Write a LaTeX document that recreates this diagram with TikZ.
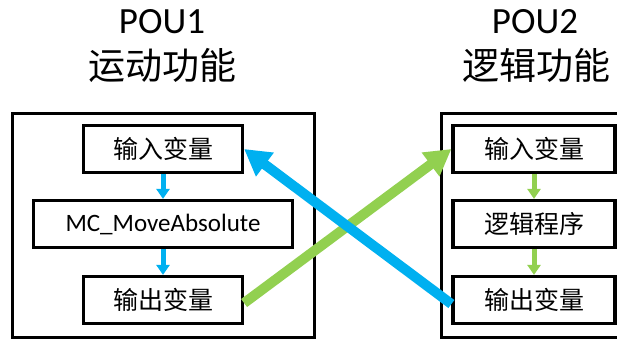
\documentclass[tikz,border=0pt]{standalone}
\usepackage{fontspec}
\setmainfont{Carlito}
\newfontfamily\cjk{Noto Sans CJK SC}
\usetikzlibrary{arrows.meta}
\definecolor{cblue}{HTML}{00B0F0}
\definecolor{cgreen}{HTML}{92D050}
\tikzset{
  inbox/.style={draw=black, line width=3.2pt, fill=white, minimum height=47pt, inner sep=0pt, font=\fontsize{25}{28}\selectfont},
  outbox/.style={draw=black, line width=3pt},
  title/.style={anchor=base, inner sep=0pt},
  smallarr/.style={line width=5pt, -{Triangle[length=10pt,width=13pt]}},
  bigarr/.style={line width=10pt, -{Triangle[length=26pt,width=28pt]}},
}
\begin{document}
\begin{tikzpicture}[x=1pt,y=-1pt]
\useasboundingbox (0,0) rectangle (617,341);
\clip (0,0) rectangle (617,341);
\fill[white] (0,0) rectangle (617,341);
% titles
\node[title, font=\fontsize{37}{40}\selectfont] (t1a) at (162,33) {POU1};
\node[title, font=\fontsize{37}{40}\selectfont\cjk] (t1b) at (162,79) {运动功能};
\node[title, font=\fontsize{37}{40}\selectfont] (t2a) at (535,33) {POU2};
\node[title, font=\fontsize{37}{40}\selectfont\cjk] (t2b) at (536,79) {逻辑功能};
% outer boxes
\draw[outbox] (12,113) rectangle (314,337);
\draw[outbox] (441,113) rectangle (660,337);
% left inner
\node[inbox, minimum width=159pt, font=\fontsize{25}{28}\selectfont\cjk] (l1) at (163,149) {输入变量};
\node[inbox, minimum width=259pt] (l2) at (163,224) {MC\_MoveAbsolute};
\node[inbox, minimum width=159pt, font=\fontsize{25}{28}\selectfont\cjk] (l3) at (163,300) {输出变量};
% right inner
\node[inbox, minimum width=162pt, font=\fontsize{25}{28}\selectfont\cjk] (r1) at (534,149) {输入变量};
\node[inbox, minimum width=162pt, font=\fontsize{25}{28}\selectfont\cjk] (r2) at (534,224) {逻辑程序};
\node[inbox, minimum width=162pt, font=\fontsize{25}{28}\selectfont\cjk] (r3) at (534,300) {输出变量};
% small arrows
\draw[smallarr, cblue] (l1.south) -- (l2.north);
\draw[smallarr, cblue] (l2.south) -- (l3.north);
\draw[smallarr, cgreen] (r1.south) -- (r2.north);
\draw[smallarr, cgreen] (r2.south) -- (r3.north);
% big arrows
\draw[bigarr, cgreen] ([yshift=-3pt]l3.east) -- (r1.west);
\draw[bigarr, cblue] ([yshift=-4pt]r3.west) -- (l1.east);
\end{tikzpicture}
\end{document}
